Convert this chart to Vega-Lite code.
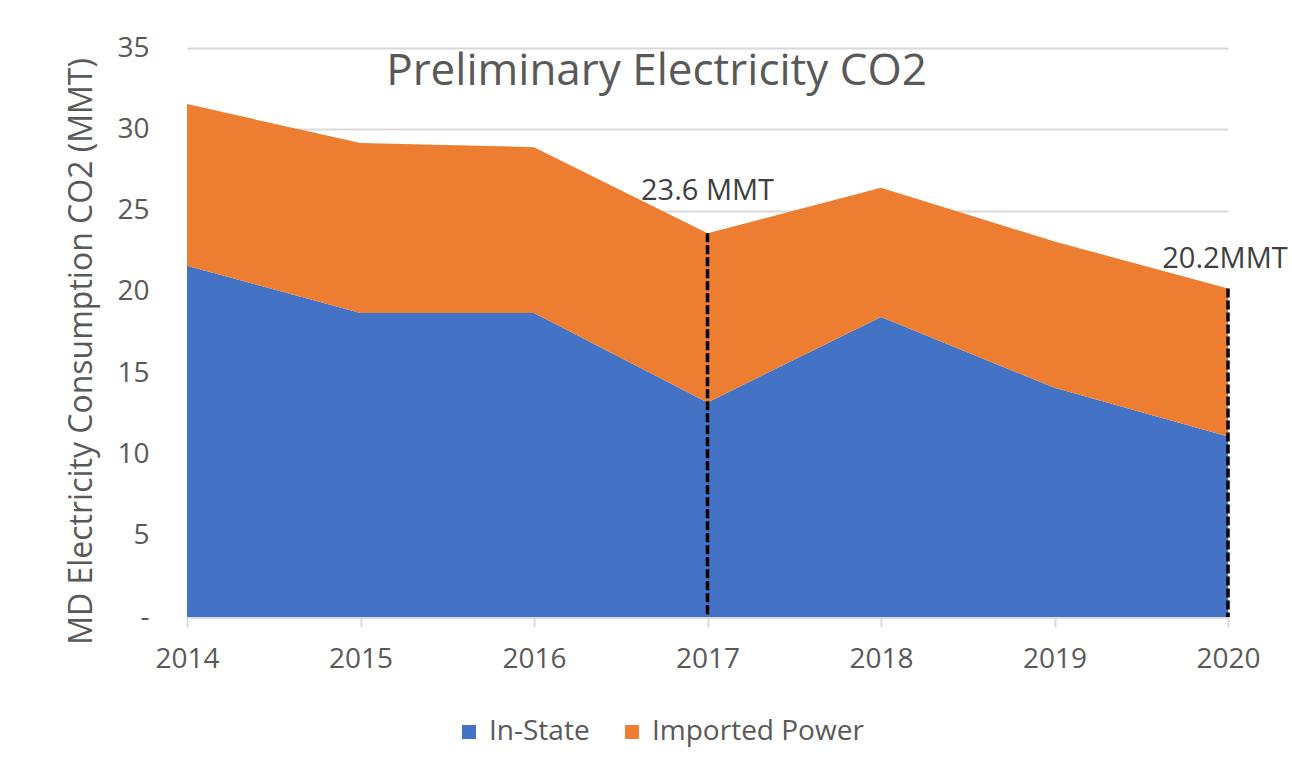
{
  "$schema": "https://vega.github.io/schema/vega-lite/v6.json",
  "autosize": {"type": "none"},
  "width": 1041,
  "height": 569,
  "padding": {"left": 187, "top": 48, "right": 64, "bottom": 160},
  "background": "white",
  "config": {
    "font": "Open Sans",
    "view": {"stroke": null},
    "axis": {"labelColor": "#595959", "titleColor": "#595959", "labelFont": "Open Sans", "titleFont": "Open Sans"}
  },
  "title": {
    "text": "Preliminary Electricity CO2",
    "fontSize": 44,
    "fontWeight": "normal",
    "color": "#595959",
    "font": "Open Sans",
    "anchor": "middle",
    "dx": -51,
    "baseline": "alphabetic",
    "offset": 0,
    "dy": 95
  },
  "datasets": {
    "areas": [
      {"year": "2014", "series": "In-State", "value": 21.6},
      {"year": "2015", "series": "In-State", "value": 18.7},
      {"year": "2016", "series": "In-State", "value": 18.7},
      {"year": "2017", "series": "In-State", "value": 13.2},
      {"year": "2018", "series": "In-State", "value": 18.45},
      {"year": "2019", "series": "In-State", "value": 14.1},
      {"year": "2020", "series": "In-State", "value": 11.1},
      {"year": "2014", "series": "Imported Power", "value": 9.95},
      {"year": "2015", "series": "Imported Power", "value": 10.45},
      {"year": "2016", "series": "Imported Power", "value": 10.2},
      {"year": "2017", "series": "Imported Power", "value": 10.4},
      {"year": "2018", "series": "Imported Power", "value": 7.95},
      {"year": "2019", "series": "Imported Power", "value": 9.0},
      {"year": "2020", "series": "Imported Power", "value": 9.1}
    ],
    "marks": [
      {"year": "2017", "total": 23.6, "label": "23.6 MMT"},
      {"year": "2020", "total": 20.2, "label": "20.2MMT"}
    ]
  },
  "layer": [
    {
      "data": {"name": "areas"},
      "transform": [{"calculate": "datum.series == 'In-State' ? 0 : 1", "as": "ord"}],
      "mark": {"type": "area", "opacity": 1},
      "encoding": {
        "x": {
          "field": "year", "type": "ordinal",
          "scale": {"type": "point", "padding": 0},
          "axis": {
            "title": null, "labelAngle": 0, "labelFontSize": 28, "labelPadding": 18,
            "domainColor": "#d9d9d9", "domainWidth": 2, "tickColor": "#d9d9d9", "tickWidth": 2, "tickSize": 10,
            "grid": false
          }
        },
        "y": {
          "field": "value", "type": "quantitative", "stack": "zero",
          "scale": {"domain": [0, 35], "nice": false},
          "axis": {
            "values": [0, 5, 10, 15, 20, 25, 30, 35],
            "labelExpr": "datum.value == 0 ? '-' : datum.label",
            "title": "MD Electricity Consumption CO2 (MMT)",
            "titleFontSize": 32, "titleFontWeight": "normal",
            "titleAngle": -90, "titleX": -106, "titleY": 303, "titleAlign": "center", "titleBaseline": "middle",
            "labelFontSize": 28, "labelPadding": 38,
            "ticks": false, "domain": false,
            "gridColor": "#d9d9d9", "gridWidth": 2
          }
        },
        "color": {
          "field": "series", "type": "nominal",
          "scale": {"domain": ["In-State", "Imported Power"], "range": ["#4472C4", "#ED7D31"]},
          "legend": {
            "title": null, "orient": "none", "direction": "horizontal",
            "legendX": 268, "legendY": 670,
            "symbolType": "square", "symbolSize": 196, "symbolStrokeWidth": 0, "symbolOpacity": 1,
            "labelFontSize": 28, "labelColor": "#595959", "labelFont": "Open Sans", "labelLimit": 400,
            "columnPadding": 28, "labelOffset": 6
          }
        },
        "order": {"field": "ord", "type": "quantitative"}
      }
    },
    {
      "data": {"name": "marks"},
      "mark": {"type": "rule", "color": "black", "strokeWidth": 3.5, "strokeDash": [9, 3]},
      "encoding": {
        "x": {"field": "year", "type": "ordinal"},
        "y": {"field": "total", "type": "quantitative"},
        "y2": {"datum": 0}
      }
    },
    {
      "data": {"name": "marks"},
      "transform": [{"filter": "datum.year == '2017'"}],
      "mark": {"type": "text", "fontSize": 29, "color": "#404040", "font": "Open Sans", "baseline": "alphabetic", "align": "center", "dy": -33},
      "encoding": {
        "x": {"field": "year", "type": "ordinal"},
        "y": {"field": "total", "type": "quantitative"},
        "text": {"field": "label", "type": "nominal"}
      }
    },
    {
      "data": {"name": "marks"},
      "transform": [{"filter": "datum.year == '2020'"}],
      "mark": {"type": "text", "fontSize": 29, "color": "#404040", "font": "Open Sans", "baseline": "alphabetic", "align": "center", "dx": -3, "dy": -21},
      "encoding": {
        "x": {"field": "year", "type": "ordinal"},
        "y": {"field": "total", "type": "quantitative"},
        "text": {"field": "label", "type": "nominal"}
      }
    }
  ]
}
